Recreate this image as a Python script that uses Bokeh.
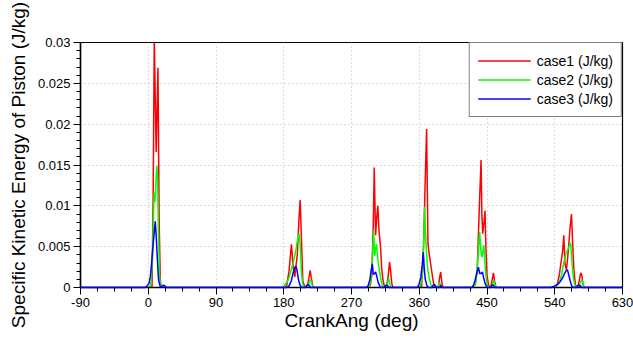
from bokeh.plotting import figure
from bokeh.models import (Range1d, FixedTicker, NumeralTickFormatter, Legend, LegendItem)
from bokeh.embed import file_html
from bokeh.resources import INLINE

# ---------------- data ----------------
case1_ang = [-90, 5, 6.5, 8, 9.5, 10.5, 12.9, 14.5, 16, 17,
             182, 184, 187, 190.2, 192.5, 194.6, 198, 200, 201.8, 203.5, 205.3, 207.5, 211, 213.5, 215.1, 216.5, 218.5, 220,
             292, 295, 297, 299, 300.2, 302, 303.5, 305, 306.5, 308.6, 310, 311.7, 313.5, 316, 318.5, 320.5, 322, 323.5, 325,
             363, 364.5, 366, 367.2, 368.5, 369.8, 371.6, 373, 375, 377, 379, 380.5, 385.5, 387, 388.5, 390, 391.5,
             430, 434, 437, 439.5, 442.1, 443.2, 444.3, 446, 447.4, 448.5, 450, 452, 455, 457, 458.5, 460, 462,
             540, 543, 546, 549, 550.5, 552, 553.5, 555.5, 558, 560.5, 562.3, 563.5, 565.5, 567.5, 570, 572.5, 574.5, 576, 577.5, 579, 630]
case1_val = [0, 0, 0.011, 0.0305, 0.022, 0.0166, 0.0269, 0.008, 0.001, 0,
             0, 0.0003, 0.002, 0.0053, 0.0025, 0.0013, 0.004, 0.008, 0.0107, 0.006, 0.0008, 0.0002, 0, 0.0012, 0.0021, 0.0012, 0.0002, 0,
             0, 0.0003, 0.0015, 0.008, 0.0147, 0.0064, 0.0085, 0.010, 0.007, 0.0049, 0.0025, 0.001, 0.0002, 0, 0.0012, 0.0031, 0.002, 0.0005, 0,
             0, 0.002, 0.006, 0.0105, 0.015, 0.0194, 0.0054, 0.0042, 0.003, 0.0017, 0.0005, 0, 0, 0.0012, 0.0019, 0.0006, 0,
             0, 0.0003, 0.002, 0.009, 0.0156, 0.009, 0.0066, 0.008, 0.0094, 0.005, 0.0015, 0.0003, 0, 0.001, 0.0018, 0.0008, 0,
             0, 0.0003, 0.0015, 0.0035, 0.0045, 0.0064, 0.003, 0.0021, 0.0045, 0.0075, 0.009, 0.006, 0.002, 0.0003, 0, 0.0008, 0.0018, 0.0015, 0.0004, 0, 0]

case2_ang = [-90, 2, 4, 6, 7.5, 8, 9, 10.5, 11.5, 12.5, 13.5, 15, 16.5, 18,
             178, 181, 184, 187, 190, 193, 196, 198.5, 200.4, 202, 203.5, 205, 207, 211, 213, 215.8, 217.5, 219.5,
             293, 295.5, 297.5, 299.3, 300.8, 302, 303.3, 305, 307, 309, 311, 313, 316, 317.8, 319.3, 320.8, 322.5,
             361, 363.5, 365.5, 367.2, 368.5, 369.5, 371, 373, 375, 377, 384, 385.5, 387, 388.5, 390,
             432, 435, 437.5, 440.3, 441.8, 443.4, 445.7, 447, 448.5, 450.5, 452, 456, 457.5, 459, 460.5, 462,
             540, 543, 546, 549, 552, 555, 558, 561, 563, 565, 567, 569, 572, 574.5, 576, 577.5, 579.5, 630]
case2_val = [0, 0, 0.0008, 0.005, 0.0105, 0.0116, 0.0105, 0.0135, 0.0149, 0.013, 0.007, 0.0015, 0.0002, 0,
             0, 0.0003, 0.0006, 0.0012, 0.0022, 0.0032, 0.0045, 0.006, 0.0066, 0.005, 0.002, 0.0005, 0, 0, 0.0005, 0.001, 0.0004, 0,
             0, 0.0008, 0.003, 0.007, 0.0039, 0.0048, 0.0053, 0.0035, 0.0022, 0.001, 0.0002, 0, 0, 0.0006, 0.0011, 0.0005, 0,
             0, 0.001, 0.0045, 0.0099, 0.0065, 0.0045, 0.0025, 0.0012, 0.0005, 0, 0, 0.0003, 0.0006, 0.0003, 0,
             0, 0.0005, 0.003, 0.0068, 0.0045, 0.0037, 0.0052, 0.0035, 0.0015, 0.0003, 0, 0, 0.0005, 0.0009, 0.0004, 0,
             0, 0.0003, 0.0006, 0.0015, 0.003, 0.0042, 0.0048, 0.0055, 0.003, 0.001, 0.0002, 0, 0.0002, 0.0007, 0.001, 0.0005, 0, 0]

case3_ang = [-90, -4, -1.5, 1, 2.7, 4.5, 6.2, 8, 9.3, 10.5, 11.5, 13.7, 16, 18, 20, 22, 24,
             184, 187, 190, 192.5, 194.5, 196, 197.5, 199.5, 201.5, 204, 209, 211, 212.5, 214, 216,
             290, 292, 294.5, 296.3, 297.6, 299, 300.5, 302, 303.5, 305.5, 307.5, 309, 313, 315, 316.6, 318, 320,
             357, 359.5, 362, 364, 365.4, 366.5, 368, 370, 372, 377, 378.5, 380, 381.5, 383, 387, 388.5, 390,
             430, 432, 434, 436.5, 438.6, 440.3, 442, 443.9, 445.5, 447.5, 449.5, 451, 455, 457, 458.5, 460,
             535, 540, 544, 548, 551, 553.5, 555.5, 557, 558.5, 560.5, 562.5, 565, 569, 571, 572.5, 574, 576, 630]
case3_val = [0, 0, 0.0002, 0.0005, 0.0013, 0.003, 0.005, 0.0068, 0.0081, 0.0065, 0.0045, 0.0009, 0.0001, 0.0001, 0.0003, 0.0002, 0,
             0, 0.0002, 0.0008, 0.0018, 0.0024, 0.0026, 0.0022, 0.001, 0.0003, 0, 0, 0.0003, 0.0004, 0.0002, 0,
             0, 0.0002, 0.001, 0.0022, 0.0029, 0.0016, 0.0017, 0.0019, 0.0014, 0.0006, 0.0002, 0, 0, 0.0002, 0.0003, 0.0002, 0,
             0, 0.0003, 0.0012, 0.0028, 0.0043, 0.0025, 0.001, 0.0003, 0, 0, 0.0003, 0.0004, 0.0002, 0, 0, 0.0003, 0,
             0, 0.0003, 0.0008, 0.0018, 0.0025, 0.0017, 0.0017, 0.0019, 0.0012, 0.0005, 0.0001, 0, 0, 0.0003, 0.0003, 0,
             0, 0.0002, 0.0004, 0.0008, 0.0013, 0.0018, 0.0021, 0.0021, 0.0016, 0.0008, 0.0002, 0, 0, 0.0002, 0.0003, 0.0002, 0, 0]

series_names = ["case1 (J/kg)", "case2 (J/kg)", "case3 (J/kg)"]
x_ticks = [-90, 0, 90, 180, 270, 360, 450, 540, 630]
x_tick_labels = ["-90", "0", "90", "180", "270", "360", "450", "540", "630"]
y_ticks = [0, 0.005, 0.01, 0.015, 0.02, 0.025, 0.03]

assert len(case1_ang) == len(case1_val)
assert len(case2_ang) == len(case2_val)
assert len(case3_ang) == len(case3_val)

FONT = "Liberation Sans"

p = figure(width=633, height=338, output_backend="svg", toolbar_location=None,
           x_range=Range1d(-90, 630), y_range=Range1d(0, 0.03),
           min_border_left=80, min_border_right=11, min_border_top=42, min_border_bottom=51)

p.outline_line_color = "black"
p.outline_line_width = 1.2
p.background_fill_color = "white"
p.border_fill_color = "white"

# grids
for g in (p.xgrid, p.ygrid):
    g.grid_line_color = "#b8b8b8"
    g.grid_line_dash = "1 3"
    g.grid_line_width = 1

# axes
p.xaxis.ticker = FixedTicker(ticks=x_ticks,
                             minor_ticks=[-90 + 22.5 * i for i in range(33)])
p.xaxis.major_label_overrides = {t: s for t, s in zip(x_ticks, x_tick_labels)}
p.yaxis.ticker = FixedTicker(ticks=y_ticks,
                             minor_ticks=[i * 0.001 for i in range(31)])
p.yaxis.formatter = NumeralTickFormatter(format="0.[000]")

for ax in (p.xaxis[0], p.yaxis[0]):
    ax.axis_line_color = "black"
    ax.axis_line_width = 1.5
    ax.major_tick_line_color = "black"
    ax.minor_tick_line_color = "black"
    ax.major_tick_in = 0
    ax.major_tick_out = 7
    ax.minor_tick_in = 0
    ax.minor_tick_out = 4
    ax.major_label_text_font = FONT
    ax.major_label_text_font_size = "13px"
    ax.major_label_text_color = "black"
    ax.axis_label_text_font = FONT
    ax.axis_label_text_font_size = "19px"
    ax.axis_label_text_font_style = "normal"
    ax.axis_label_text_color = "black"

p.xaxis.axis_label = "CrankAng (deg)"
p.yaxis.axis_label = "Specific Kinetic Energy of Piston (J/kg)"
p.xaxis.major_label_standoff = 3
p.xaxis.axis_label_standoff = 0
p.yaxis.major_label_standoff = 3
p.yaxis.axis_label_standoff = 6

r1 = p.line(case1_ang, case1_val, line_color="#ff0000", line_width=1.5)
r2 = p.line(case2_ang, case2_val, line_color="#00ff00", line_width=1.5)
r3 = p.line(case3_ang, case3_val, line_color="#0000ff", line_width=1.5)
r3.level = "overlay"   # blue baseline drawn over the x axis line, as in the reference

legend = Legend(items=[LegendItem(label=series_names[0], renderers=[r1]),
                       LegendItem(label=series_names[1], renderers=[r2]),
                       LegendItem(label=series_names[2], renderers=[r3])],
                location="top_right")
legend.margin = 0
legend.padding = 8
legend.spacing = 0
legend.glyph_width = 53
legend.glyph_height = 19
legend.label_height = 19
legend.label_standoff = 6
legend.label_text_font = FONT
legend.label_text_font_size = "14px"
legend.label_text_color = "black"
legend.border_line_color = "black"
legend.border_line_width = 1.2
legend.background_fill_color = "white"
legend.background_fill_alpha = 1
p.add_layout(legend, "center")

open("out.html", "w").write(file_html(p, INLINE))
